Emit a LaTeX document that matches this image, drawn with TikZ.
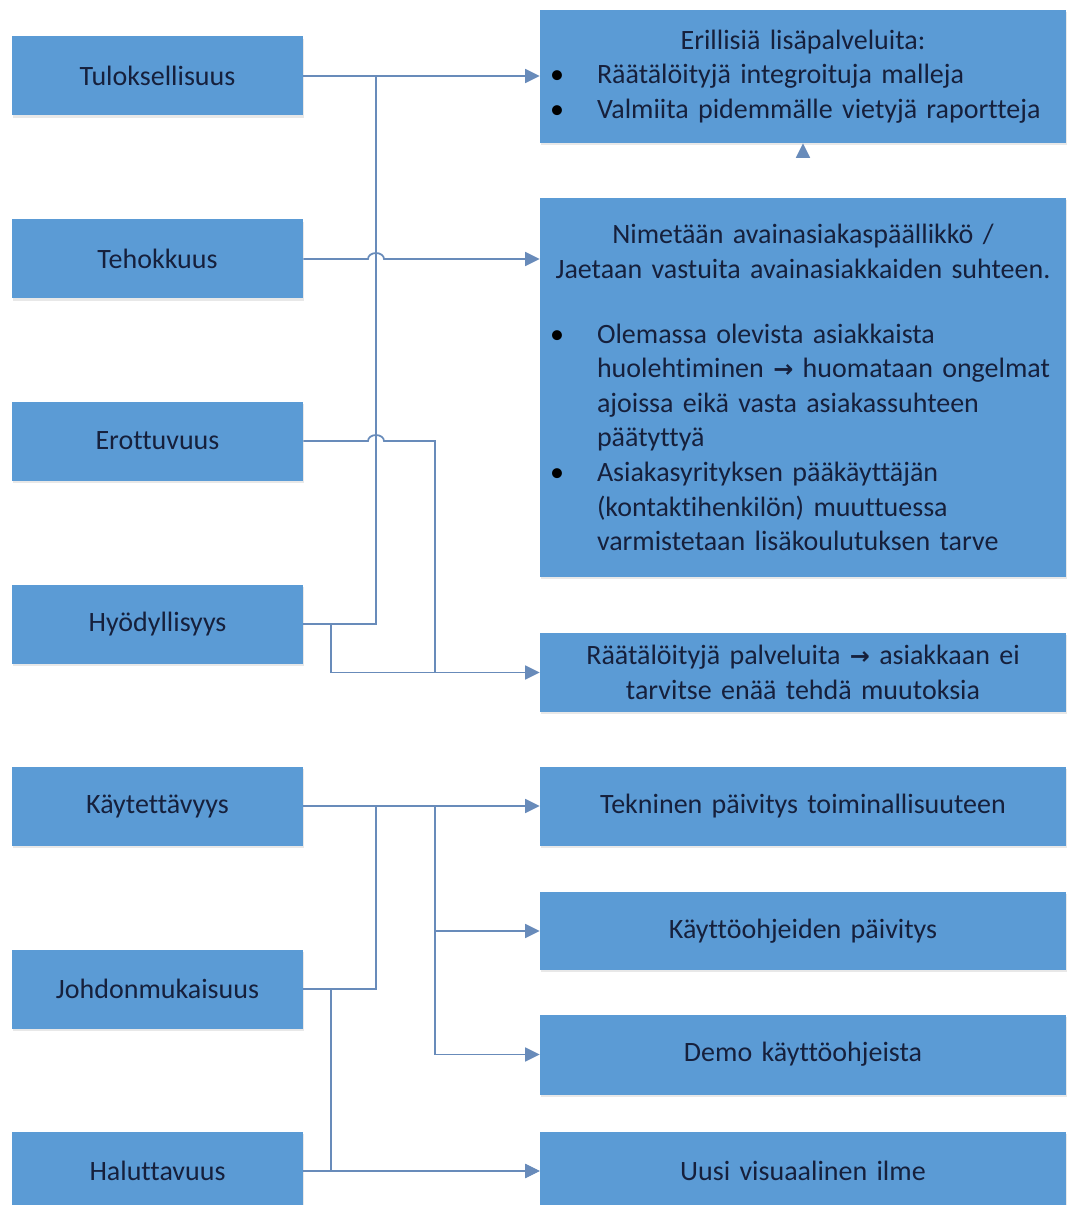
\documentclass[tikz,border=0pt]{standalone}
\usepackage{fontspec}
\setmainfont{Carlito}[Ligatures=NoCommon]
\newfontfamily\arrfont{DejaVu Sans}
\usetikzlibrary{arrows.meta,shadows}
\definecolor{boxblue}{RGB}{91,155,213}
\definecolor{linec}{RGB}{104,139,186}
\definecolor{txt}{RGB}{22,32,60}
\newcommand\toarr{{\arrfont\bfseries\fontsize{18pt}{20pt}\selectfont →}}
\newcommand\bitem[1]{\par\noindent\hangindent=42.75pt\hangafter=1\makebox[42.75pt][l]{\hspace{7.5pt}\textcolor{black}{•}}#1\par}
\tikzset{
  base/.style={fill=boxblue, draw=none, text=txt, font=\fontsize{21pt}{25.9pt}\selectfont,
    drop shadow={opacity=0.18, shadow xshift=0.6pt, shadow yshift=-1.8pt}},
  lbox/.style={base, minimum width=218.25pt, minimum height=59.25pt, inner sep=0pt},
  rbox/.style={base, minimum width=394.5pt, text width=394.5pt, inner xsep=0pt, inner ysep=0pt},
  conn/.style={draw=linec, line width=1.3pt},
  arr/.style={conn, -{Triangle[length=11pt,width=10.5pt]}}
}
\begin{document}
\begin{tikzpicture}[x=0.75pt,y=-0.75pt]
\useasboundingbox (0,0) rectangle (1066,1205);
% left boxes
\node[lbox] (t)  at (157.5,76)   {Tuloksellisuus};
\node[lbox] (te) at (157.5,259)  {Tehokkuus};
\node[lbox] (e)  at (157.5,441)  {Erottuvuus};
\node[lbox] (h)  at (157.5,624)  {Hyödyllisyys};
\node[lbox] (k)  at (157.5,806)  {Käytettävyys};
\node[lbox] (j)  at (157.5,989)  {Johdonmukaisuus};
\node[lbox] (ha) at (157.5,1171) {Haluttavuus};
% right boxes
\node[rbox, align=left, minimum height=99.75pt] (b1) at (803,76.5) {%
{\centering Erillisiä lisäpalveluita:\par}
\bitem{Räätälöityjä integroituja malleja}
\bitem{Valmiita pidemmälle vietyjä raportteja}};
\node[rbox, align=left, minimum height=284.25pt] (b2) at (803,387.5) {%
{\centering Nimetään avainasiakaspäällikkö /\\Jaetaan vastuita avainasiakkaiden suhteen.\par}
\vspace{23pt}
\bitem{Olemassa olevista asiakkaista\newline huolehtiminen \toarr{} huomataan ongelmat\newline ajoissa eikä vasta asiakassuhteen\newline päätyttyä}
\bitem{Asiakasyrityksen pääkäyttäjän\newline (kontaktihenkilön) muuttuessa\newline varmistetaan lisäkoulutuksen tarve}};
\node[rbox, align=center, minimum height=59.25pt] (b3) at (803,672.5) {Räätälöityjä palveluita \toarr{} asiakkaan ei\\tarvitse enää tehdä muutoksia};
\node[rbox, align=center, minimum height=59.25pt] (b4) at (803,806) {Tekninen päivitys toiminallisuuteen};
\node[rbox, align=center, minimum height=58.5pt] (b5) at (803,931) {Käyttöohjeiden päivitys};
\node[rbox, align=center, minimum height=60pt] (b6) at (803,1054.5) {Demo käyttöohjeista};
\node[rbox, align=center, minimum height=58.5pt] (b7) at (803,1171) {Uusi visuaalinen ilme};
% trunk x positions
\coordinate (xa) at (376,0);
\coordinate (xb) at (435,0);
\coordinate (xc) at (331,0);
% upper group
\draw[arr] (t.east) -- (t.east -| b1.west);
\draw[conn] (h.east) -| (xa |- t.east);
\draw[arr] (te.east) -- ([xshift=-6pt]xa |- te.east) arc[start angle=180, end angle=0, x radius=6pt, y radius=4.5pt] -- (te.east -| b2.west);
\draw[conn] (e.east) -- ([xshift=-6pt]xa |- e.east) arc[start angle=180, end angle=0, x radius=6pt, y radius=4.5pt] -- (xb |- e.east) -- (xb |- b3.west);
\draw[arr] (h.east) -- (xc |- h.east) |- (b3.west);
\draw[arr, shorten <=31pt] (b2.north) -- (b1.south);
% lower group
\draw[arr] (k.east) -- (k.east -| b4.west);
\draw[conn] (j.east) -| (xa |- k.east);
\draw[arr] (k.east) -- (xb |- k.east) |- (b5.west);
\draw[arr] (k.east) -- (xb |- k.east) |- (b6.west);
\draw[arr] (j.east) -- (xc |- j.east) |- (b7.west);
\draw[arr] (ha.east) -- (b7.west);
\end{tikzpicture}
\end{document}
